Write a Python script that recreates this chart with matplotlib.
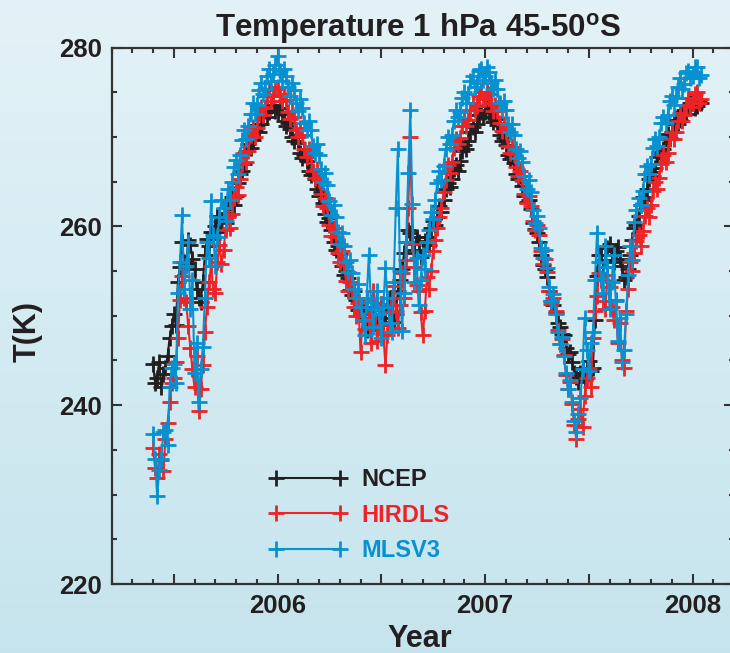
import numpy as np
import matplotlib
matplotlib.use("Agg")
import matplotlib.pyplot as plt
from matplotlib.ticker import MultipleLocator, FuncFormatter

plt.rcParams['font.family'] = ['Liberation Sans', 'DejaVu Sans']
plt.rcParams['font.weight'] = 'bold'
plt.rcParams['mathtext.fontset'] = 'custom'
plt.rcParams['mathtext.rm'] = 'Liberation Sans:bold'
plt.rcParams['mathtext.bf'] = 'Liberation Sans:bold'

# ---------------- data (sampled every 0.01 yr from 2005.40) ----------------
start_year = 2005.40
step_year = 0.01

ncep = [244.6, 242.5, 243.0, 244.8, 242.0, 243.5, 244.2, 245.5, 247.5, 248.8,
        250.2, 249.0, 253.8, 255.5, 258.2, 256.0, 255.8, 258.5, 257.9, 256.4,
        255.2, 253.0, 252.0, 251.5, 253.8, 256.8, 258.6, 257.8, 259.4, 258.6,
        260.0, 261.2, 259.4, 260.6, 261.5, 260.4, 261.2, 262.6, 263.3, 262.4,
        263.4, 264.9, 265.9, 266.2, 267.0, 268.4, 269.2, 268.8, 269.6, 270.7,
        271.3, 270.6, 271.5, 272.4, 272.9, 272.2, 272.8, 273.5, 273.6, 272.9,
        272.8, 273.2, 272.6, 271.8, 271.2, 271.6, 270.9, 270.0, 269.5, 270.1,
        269.3, 268.2, 267.6, 268.0, 267.3, 266.2, 265.7, 266.0, 265.3, 264.2,
        263.4, 263.8, 262.6, 261.4, 260.5, 260.9, 259.6, 258.3, 257.4, 257.8,
        256.9, 255.6, 254.6, 255.0, 254.2, 252.9, 252.3, 252.8, 251.8, 250.6,
        250.2, 251.0, 249.8, 248.4, 248.7, 250.2, 250.8, 249.2, 249.0, 250.6,
        251.3, 249.0, 249.7, 251.2, 252.0, 250.4, 249.3, 250.2, 252.8, 254.0,
        255.2, 257.0, 258.3, 259.6, 259.2, 258.0, 257.3, 258.8, 258.2, 256.6,
        257.2, 258.4, 258.8, 257.9, 259.8, 260.6, 260.2, 261.0, 262.3, 261.6,
        262.9, 264.2, 264.8, 264.4, 265.3, 266.4, 266.9, 266.2, 267.3, 268.4,
        269.1, 268.6, 269.5, 270.6, 271.1, 270.5, 271.5, 272.4, 272.8, 272.2,
        272.8, 273.5, 273.0, 272.2, 271.7, 272.0, 271.3, 270.2, 269.5, 269.9,
        269.1, 268.0, 267.5, 267.8, 267.1, 265.9, 265.3, 265.6, 264.5, 263.4,
        262.7, 263.0, 261.9, 260.4, 259.7, 259.2, 258.3, 256.8, 255.7, 255.2,
        254.3, 252.8, 251.7, 251.2, 250.3, 249.2, 248.7, 248.0, 247.8, 246.4,
        245.7, 245.9, 244.8, 243.6, 243.2, 242.6, 243.6, 244.2, 242.8, 244.0,
        244.9, 243.8, 244.2, 249.5, 254.5, 256.8, 256.8, 255.4, 256.2, 257.6,
        258.0, 256.8, 256.0, 257.2, 257.7, 256.4, 255.6, 254.0, 254.3, 255.2,
        256.8, 258.5, 259.8, 260.2, 261.2, 262.4, 263.3, 263.0, 264.2, 265.3,
        266.1, 265.6, 266.5, 267.8, 268.3, 268.0, 268.7, 269.8, 270.3, 269.9,
        270.5, 271.4, 271.9, 271.5, 271.9, 272.8, 273.0, 272.6, 273.2, 273.8,
        273.8, 273.2, 273.5, 274.0, 273.8]

hirdls = [235.2, 233.0, 231.8, 234.5, 233.9, 232.6, 236.2, 238.0, 240.3, 242.5,
          243.0, 244.8, 247.5, 251.8, 254.4, 252.0, 251.5, 248.8, 246.4, 244.0,
          242.0, 245.5, 239.3, 241.8, 244.5, 248.2, 251.0, 253.8, 255.6, 253.0,
          252.5, 256.0, 257.9, 255.8, 257.4, 259.6, 261.0, 259.8, 261.4, 263.2,
          264.4, 263.5, 265.3, 267.0, 268.2, 267.2, 268.4, 270.2, 271.1, 270.0,
          271.0, 272.6, 273.4, 272.4, 273.2, 274.6, 275.2, 274.0, 274.6, 275.4,
          275.6, 274.6, 274.0, 274.8, 274.1, 272.8, 272.0, 272.9, 272.2, 270.8,
          270.0, 271.0, 270.2, 268.6, 267.8, 268.6, 268.0, 266.2, 265.4, 266.4,
          265.2, 263.6, 262.3, 263.2, 262.0, 260.2, 258.9, 259.8, 258.8, 257.0,
          256.0, 257.2, 255.7, 253.9, 252.8, 253.8, 252.9, 251.0, 250.0, 251.4,
          246.0, 249.4, 248.5, 251.6, 249.8, 247.0, 252.8, 250.2, 247.2, 249.0,
          251.3, 248.0, 244.5, 247.8, 250.4, 252.0, 253.3, 250.5, 248.6, 251.2,
          254.8, 252.0, 256.2, 262.0, 270.0, 258.0, 255.5, 253.4, 252.8, 250.4,
          247.8, 250.5, 254.3, 253.0, 255.0, 257.2, 258.5, 259.8, 261.0, 262.0,
          263.8, 265.2, 266.9, 266.0, 267.2, 268.8, 269.8, 269.2, 269.9, 271.2,
          272.0, 271.2, 271.9, 273.0, 273.8, 273.0, 273.5, 274.6, 275.0, 274.2,
          274.2, 275.0, 274.8, 273.8, 272.9, 273.6, 272.9, 271.6, 270.7, 271.4,
          270.5, 269.0, 268.2, 268.9, 268.1, 266.6, 265.6, 266.2, 265.2, 263.6,
          262.6, 263.4, 262.3, 260.6, 259.6, 260.2, 259.0, 257.2, 255.8, 256.4,
          254.9, 252.8, 251.3, 252.0, 250.5, 248.4, 246.8, 247.4, 245.6, 243.4,
          241.8, 242.6, 240.1, 237.8, 236.2, 238.4, 239.6, 237.6, 241.0, 243.0,
          244.2, 242.0, 247.5, 250.5, 252.2, 254.8, 254.0, 251.6, 250.8, 254.6,
          253.2, 251.0, 249.5, 251.8, 247.0, 249.2, 245.0, 244.2, 250.5, 253.0,
          256.0, 255.0, 257.0, 258.4, 259.0, 257.8, 259.5, 261.2, 262.0, 261.0,
          262.4, 264.0, 265.0, 264.2, 265.4, 267.0, 268.0, 267.2, 268.2, 269.8,
          270.5, 269.8, 270.6, 271.8, 272.7, 271.8, 272.5, 273.6, 274.3, 273.4,
          273.8, 274.8, 275.0, 273.8, 274.2]

mlsv3 = [236.8, 234.0, 229.8, 232.8, 234.0, 237.0, 237.2, 235.5, 242.0, 244.2,
         244.6, 242.5, 252.5, 256.0, 261.3, 253.0, 255.6, 258.2, 250.8, 254.0,
         243.6, 247.0, 240.4, 244.0, 246.5, 252.0, 258.2, 256.5, 262.8, 259.0,
         255.6, 258.8, 261.0, 263.0, 262.0, 260.6, 264.2, 263.0, 265.0, 266.6,
         267.4, 265.8, 268.0, 269.6, 270.8, 269.8, 271.2, 272.6, 273.8, 272.6,
         273.6, 275.2, 276.0, 274.8, 275.4, 276.8, 277.6, 276.2, 277.0, 278.0,
         279.0, 277.4, 276.2, 277.6, 276.8, 275.6, 274.6, 276.0, 275.2, 273.8,
         272.9, 274.2, 273.2, 271.6, 270.8, 271.8, 270.8, 269.0, 268.2, 269.2,
         268.0, 266.4, 265.0, 266.0, 264.6, 262.8, 261.3, 262.4, 261.0, 259.4,
         258.0, 259.2, 257.8, 256.0, 254.9, 256.2, 254.8, 253.0, 252.0, 253.6,
         251.0, 249.5, 247.8, 252.0, 256.8, 251.5, 248.7, 250.8, 252.8, 250.2,
         247.5, 251.0, 255.3, 252.0, 249.2, 248.2, 253.8, 262.0, 268.6, 255.0,
         248.3, 252.6, 258.3, 266.0, 273.0, 262.5, 253.8, 256.5, 251.2, 254.0,
         256.8, 255.2, 258.2, 259.6, 261.6, 260.8, 263.0, 264.8, 266.2, 265.2,
         266.8, 268.6, 270.0, 269.2, 270.2, 271.8, 273.0, 272.2, 272.8, 274.4,
         275.0, 273.8, 274.8, 276.2, 276.8, 275.6, 276.0, 277.4, 277.6, 276.4,
         276.8, 277.8, 277.3, 276.0, 275.4, 276.4, 275.4, 273.8, 273.0, 274.0,
         273.0, 271.4, 270.6, 271.4, 270.2, 268.6, 267.6, 268.4, 267.2, 265.6,
         264.2, 265.2, 263.8, 261.8, 260.4, 261.2, 259.8, 257.6, 256.5, 257.4,
         255.3, 253.2, 251.7, 252.4, 250.2, 248.2, 246.8, 247.6, 245.5, 243.6,
         241.8, 242.8, 240.4, 238.2, 237.0, 239.0, 240.8, 244.0, 249.8, 246.2,
         243.8, 247.0, 248.2, 254.0, 259.3, 256.0, 254.2, 252.6, 257.8, 255.4,
         250.8, 253.8, 256.8, 251.6, 247.2, 249.8, 244.8, 246.2, 250.2, 254.6,
         257.8, 256.2, 260.5, 261.8, 263.2, 262.4, 264.0, 265.8, 266.8, 265.8,
         267.0, 268.8, 269.8, 269.0, 270.0, 271.6, 272.2, 271.6, 272.4, 274.0,
         274.6, 273.6, 274.3, 275.6, 276.6, 275.4, 275.9, 277.2, 277.4, 276.6,
         276.8, 277.8, 277.8, 276.6, 276.9]

series_names = ['NCEP', 'HIRDLS', 'MLSV3']
series_colors = ['#231f20', '#ec2327', '#0891d1']
year_labels = [2006, 2007, 2008]

# ---------------- figure ----------------
W, H = 730, 653
fig = plt.figure(figsize=(W / 100, H / 100), dpi=100)

# background gradient
bg = fig.add_axes([0, 0, 1, 1], zorder=-10)
top = np.array([0.890, 0.949, 0.969])
bot = np.array([0.776, 0.894, 0.929])
t = np.linspace(0, 1, 256)[:, None]
grad = top[None, :] * (1 - t) + bot[None, :] * t
bg.imshow(grad[:, None, :], aspect='auto', extent=[0, 1, 0, 1])
bg.set_axis_off()

x0, x1 = 111.5, 734.0
y_top, y_bot = 47.5, 584.0
ax = fig.add_axes([x0 / W, 1 - y_bot / H, (x1 - x0) / W, (y_bot - y_top) / H])
ax.set_facecolor('none')

handles = []
for vals, name, col in zip([ncep, hirdls, mlsv3], series_names, series_colors):
    yrs = np.round(start_year + step_year * np.arange(len(vals)), 2)
    h, = ax.plot(yrs, vals, color=col, lw=1.5, marker='+', ms=12, mew=2.0,
                 label=name)
    handles.append(h)

ax.set_xlim(2005.2, 2008.2)
ax.set_ylim(220, 280)

ax.xaxis.set_major_locator(MultipleLocator(0.5))
ax.xaxis.set_minor_locator(MultipleLocator(0.1))
ax.xaxis.set_major_formatter(FuncFormatter(
    lambda v, p: f"{int(round(v))}" if abs(v - round(v)) < 1e-6 and int(round(v)) in year_labels else ""))
ax.yaxis.set_major_locator(MultipleLocator(20))
ax.yaxis.set_minor_locator(MultipleLocator(5))

for s in ax.spines.values():
    s.set_linewidth(1.6)
    s.set_color('#333333')
ax.tick_params(which='both', direction='in', top=True, right=True,
               color='#333333', width=1.5)
ax.tick_params(which='major', length=7.5, labelsize=18.5, pad=7)
ax.tick_params(which='minor', length=3.8)
for lab in ax.get_xticklabels() + ax.get_yticklabels():
    lab.set_fontweight('bold')
    lab.set_color('#231f20')

fig.text(418 / W, 1 - 37 / H, r'Temperature 1 hPa 45-50$^{\mathrm{o}}$S',
         ha='center', va='baseline', fontsize=22.5, fontweight='bold', color='#231f20')
fig.text(420 / W, 1 - 647 / H, 'Year', ha='center', va='baseline',
         fontsize=22, fontweight='bold', color='#231f20')
fig.text(28 / W, 1 - 332 / H, 'T(K)', ha='center', va='center', rotation=90,
         fontsize=22, fontweight='bold', color='#231f20')

leg = ax.legend(handles=handles, loc='upper left', numpoints=2, frameon=False,
                bbox_to_anchor=(269 / W, 1 - 468 / H), bbox_transform=fig.transFigure,
                handlelength=3.3, handletextpad=0.6, labelspacing=0.53,
                borderpad=0, borderaxespad=0, prop={'weight': 'bold', 'size': 17})
for txt, col in zip(leg.get_texts(), series_colors):
    txt.set_color(col)

fig.savefig('out.png', dpi=100)
